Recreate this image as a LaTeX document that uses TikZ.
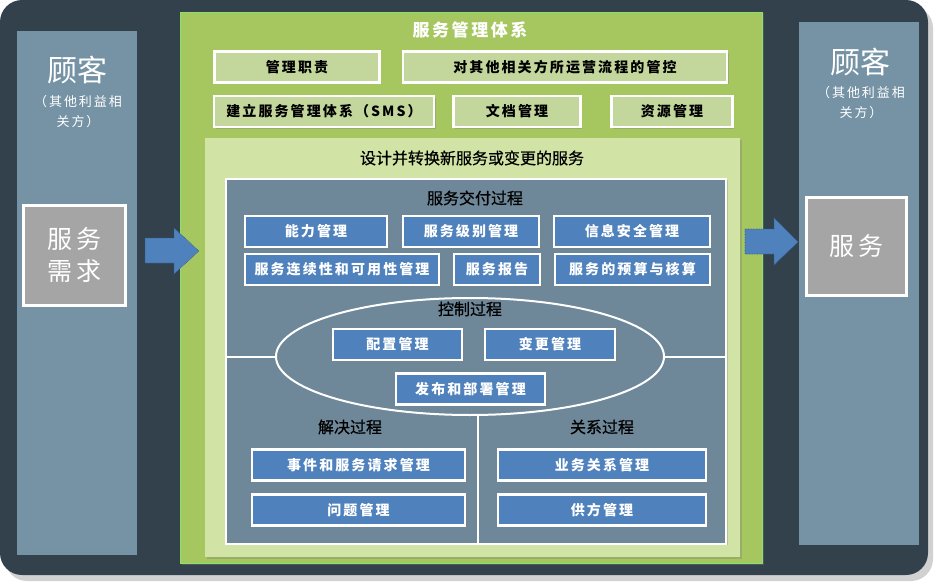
\documentclass[tikz,border=0pt]{standalone}
\usepackage{fontspec}
\newfontfamily\cjk{Noto Sans CJK SC}
\newfontfamily\cjkhead[FakeBold=0.6]{Noto Sans CJK SC}
\newfontfamily\cjkwide[LetterSpace=15]{Noto Sans CJK SC}
\usepackage{tikz}
\usetikzlibrary{shapes.geometric, shadows, positioning}
\definecolor{bgdark}{HTML}{33414D}
\definecolor{sidepanel}{HTML}{7693A5}
\definecolor{reqgray}{HTML}{A5A5A5}
\definecolor{smsgreen}{HTML}{A6C65F}
\definecolor{designgreen}{HTML}{D2E3A6}
\definecolor{boxgreen}{HTML}{C3D69B}
\definecolor{procslate}{HTML}{6E8899}
\definecolor{procblue}{HTML}{4F81BD}
\definecolor{arrowedge}{HTML}{2F5A8C}
\tikzstyle{panel} = [rectangle, inner sep=0pt]
\tikzstyle{softshadow} = [drop shadow={opacity=0.35, shadow xshift=1.5pt, shadow yshift=-1.5pt}]
\tikzstyle{gbox} = [rectangle, draw=white, line width=2.5pt, fill=boxgreen, inner sep=0pt, minimum height=31, text=black, font=\cjkwide\bfseries\fontsize{14}{14}\selectfont, softshadow]
\tikzstyle{bbox} = [rectangle, draw=white, line width=2.5pt, fill=procblue, inner sep=0pt, minimum height=31, text=white, font=\cjkwide\bfseries\fontsize{14}{14}\selectfont, softshadow]
\tikzstyle{head} = [inner sep=0pt, text=black, font=\cjkhead\fontsize{16}{16}\selectfont]
\tikzstyle{custtitle} = [inner sep=0pt, text=white, font=\cjk\fontsize{30}{30}\selectfont]
\tikzstyle{custnote} = [inner sep=0pt, text=white, align=center, font=\cjkwide\fontsize{13}{20}\selectfont]
\tikzstyle{bigarrow} = [fill=procblue, draw=arrowedge, densely dotted, line width=0.6pt]
\tikzstyle{divline} = [draw=white, line width=2pt]

\begin{document}
\begin{tikzpicture}[x=1pt, y=-1pt]
\useasboundingbox (0,0) rectangle (940,586);
% background
\fill[black, opacity=0.18, rounded corners=22pt] (5,6) rectangle (933,581);
\node[panel, fill=bgdark, rounded corners=22pt, minimum width=928, minimum height=575] (bg) at (464,287.5) {};

% customers, left and right
\node[panel, fill=sidepanel, minimum width=120, minimum height=524] (custL) at (77,293) {};
\node[custtitle] (custLtitle) at (77,70) {顾客};
\node[custnote] (custLnote) at (78,112) {（其他利益相\\关方）};
\node[panel, fill=reqgray, draw=white, line width=3pt, minimum width=102, minimum height=100, text=white, align=center, font=\cjkwide\fontsize{25}{32}\selectfont, softshadow] (req) at (74.5,255.5) {服务\\需求};

\node[panel, fill=sidepanel, minimum width=120, minimum height=523] (custR) at (859,283.5) {};
\node[custtitle] (custRtitle) at (860,62) {顾客};
\node[custnote] (custRnote) at (861,103) {（其他利益相\\关方）};
\node[panel, fill=reqgray, draw=white, line width=3pt, minimum width=100, minimum height=98, text=white, font=\cjkwide\fontsize{25}{25}\selectfont, softshadow] (svc) at (856.5,246) {服务};

% service management system
\node[panel, fill=smsgreen, draw=green!30!boxgreen, line width=0.8pt, minimum width=582, minimum height=551, softshadow] (smspanel) at (471,287.5) {};
\node[inner sep=0pt, text=white, font=\cjkwide\bfseries\fontsize{17}{17}\selectfont] (smstitle) at (470,30) {服务管理体系};
\node[gbox, minimum width=165] (mgtresp) at (297,67) {管理职责};
\node[gbox, minimum width=324] (govern) at (565,67) {对其他相关方所运营流程的管控};
\node[gbox, minimum width=220] (smsest) at (324,111.5) {建立服务管理体系（SMS）};
\node[gbox, minimum width=127] (docmgt) at (517,111.5) {文档管理};
\node[gbox, minimum width=121] (resmgt) at (672,111.5) {资源管理};

% design and transition
\node[panel, fill=designgreen, minimum width=535, minimum height=419, softshadow] (designpanel) at (472.5,347.5) {};
\node[head] (designtitle) at (472,158) {设计并转换新服务或变更的服务};
\node[panel, fill=procslate, draw=white, line width=2pt, minimum width=500, minimum height=365, softshadow] (procpanel) at (476,361) {};

% service delivery
\node[head] (delivtitle) at (475,198) {服务交付过程};
\node[bbox, minimum width=142] (capmgt) at (316,231.5) {能力管理};
\node[bbox, minimum width=136] (slm) at (471,231.5) {服务级别管理};
\node[bbox, minimum width=156] (infosec) at (632,231.5) {信息安全管理};
\node[bbox, minimum width=194] (contmgt) at (342,269.5) {服务连续性和可用性管理};
\node[bbox, minimum width=86] (report) at (497,269.5) {服务报告};
\node[bbox, minimum width=155] (budget) at (632.5,269.5) {服务的预算与核算};

% control
\node[ellipse, draw=white, line width=2pt, minimum width=388, minimum height=117] (ctrl) at (470,356.5) {};
\draw[divline] (ctrl.west) -- (ctrl.west -| procpanel.west);
\draw[divline] (ctrl.east) -- (ctrl.east -| procpanel.east);
\coordinate (split) at (478,415);
\draw[divline] (split) -- (split |- procpanel.south);
\node[head] (ctrltitle) at (470,309) {控制过程};
\node[bbox, minimum width=129] (config) at (397.5,344.5) {配置管理};
\node[bbox, minimum width=130] (change) at (550,344.5) {变更管理};
\node[bbox, minimum width=149] (release) at (470.5,389) {发布和部署管理};

% resolution and relationship
\node[head] (resoltitle) at (350,427) {解决过程};
\node[bbox, minimum width=213] (incident) at (358.5,465) {事件和服务请求管理};
\node[bbox, minimum width=213] (problem) at (358.5,510) {问题管理};
\node[head] (relattitle) at (602,427) {关系过程};
\node[bbox, minimum width=208] (brm) at (602,465) {业务关系管理};
\node[bbox, minimum width=208] (supplier) at (602,510) {供方管理};

% block arrows
\draw[bigarrow] (145,238) -- (174,238) -- (174,228) -- (199,251) -- (174,274) -- (174,263) -- (145,263) -- cycle;
\draw[bigarrow] (745,229) -- (774,229) -- (774,218) -- (798,242) -- (774,265) -- (774,254) -- (745,254) -- cycle;
\end{tikzpicture}
\end{document}
